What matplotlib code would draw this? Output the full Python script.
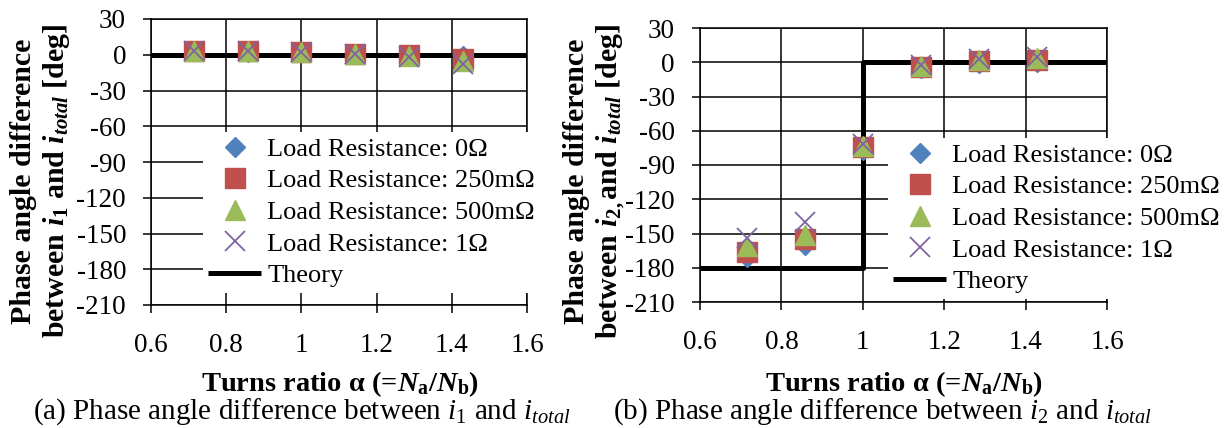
import matplotlib
matplotlib.use('Agg')
import matplotlib.pyplot as plt

plt.rcParams['font.family'] = 'Liberation Serif'
plt.rcParams['axes.unicode_minus'] = False
plt.rcParams['mathtext.fontset'] = 'custom'
plt.rcParams['mathtext.rm'] = 'Liberation Serif'
plt.rcParams['mathtext.it'] = 'Liberation Serif:italic'
plt.rcParams['mathtext.bf'] = 'Liberation Serif:bold'
plt.rcParams['mathtext.bfit'] = 'Liberation Serif:italic:bold'

# turns ratio Na/Nb
ratio = [5 / 7, 6 / 7, 7 / 7, 8 / 7, 9 / 7, 10 / 7]

# (a) phase difference i1 vs itotal [deg]
a_r0 = [3, 2, 2, 1, -1, -1]
a_r250 = [3, 3, 2, 1, -0.5, -3.5]
a_r500 = [3, 3, 2, 1, -1, -5.5]
a_r1 = [3.5, 3.5, 2.5, 1, -1.5, -7.5]
a_theory_x = [0.6, 1.6]
a_theory_y = [0, 0]

# (b) phase difference i2 vs itotal [deg]
b_r0 = [-171, -160, -77, -5, -1, 0]
b_r250 = [-166, -155, -74, -4, 1, 2]
b_r500 = [-161, -151, -73, -3, 2, 3.5]
b_r1 = [-154, -140, -72, -2, 3, 5]
b_theory_x = [0.6, 1.0, 1.0, 1.6]
b_theory_y = [-180, -180, 0, 0]

labels = ['Load Resistance: 0Ω', 'Load Resistance: 250mΩ',
          'Load Resistance: 500mΩ', 'Load Resistance: 1Ω', 'Theory']

W, H = 1231, 428
fig = plt.figure(figsize=(W / 100, H / 100), dpi=100)


def px(x0, y0, x1, y1):
    return [x0 / W, 1 - y1 / H, (x1 - x0) / W, (y1 - y0) / H]


def draw(ax, r0, r250, r500, r1, tx, ty, leg_xy):
    ax.plot(tx, ty, color='black', lw=3.6, solid_capstyle='butt', zorder=3)
    ax.plot(ratio, r0, 'D', color='#4F81BD', ms=10.5, zorder=4)
    ax.plot(ratio, r250, 's', color='#C0504D', ms=14.5, zorder=4)
    ax.plot(ratio, r500, '^', color='#9BBB59', ms=14.5, zorder=4)
    ax.plot(ratio, r1, 'x', color='#8064A2', ms=14.5, mew=1.3, zorder=4)
    ax.set_xlim(0.6, 1.6)
    ax.set_ylim(-210, 30)
    ax.set_xticks([0.6, 0.8, 1.0, 1.2, 1.4, 1.6])
    ax.set_xticklabels(['0.6', '0.8', '1', '1.2', '1.4', '1.6'])
    ax.set_yticks(range(-210, 31, 30))
    ax.grid(True, color='black', lw=1.1)
    ax.set_axisbelow(True)
    for s in ax.spines.values():
        s.set_linewidth(1.1)
    ax.tick_params(axis='both', direction='out', length=6, width=1.1,
                   labelsize=19.5)
    ax.tick_params(axis='y', pad=12)
    ax.tick_params(axis='x', pad=14)
    h = ax.get_lines()
    handles = [h[1], h[2], h[3], h[4], h[0]]
    leg = ax.legend(handles, labels, loc='upper left',
                    bbox_to_anchor=(leg_xy[0] / W, 1 - leg_xy[1] / H),
                    bbox_transform=fig.transFigure, borderaxespad=0,
                    borderpad=0.2, handlelength=2.0, handletextpad=0.23,
                    labelspacing=0.31, prop={'size': 19}, fancybox=False,
                    framealpha=1, facecolor='white', edgecolor='none')
    leg.set_zorder(5)


ax1 = fig.add_axes(px(151, 19, 527, 305))
draw(ax1, a_r0, a_r250, a_r500, a_r1, a_theory_x, a_theory_y, (203, 132))
ax2 = fig.add_axes(px(700, 28, 1107, 302))
draw(ax2, b_r0, b_r250, b_r500, b_r1, b_theory_x, b_theory_y, (888, 138))

ylab_a = ("Phase angle difference\n"
          r"between $\mathbfit{i}_{\mathbf{1}}$ and $\mathbfit{i}_{\mathbfit{total}}$ [deg]")
ylab_b = ("Phase angle difference\n"
          r"between $\mathbfit{i}_{\mathbf{2,}}$and $\mathbfit{i}_{\mathbfit{total}}$ [deg]")
fig.text(41 / W, 1 - 181 / H, ylab_a, rotation=90, ha='center', va='center',
         fontsize=21.5, fontweight='bold', linespacing=1.15)
fig.text(595 / W, 1 - 181 / H, ylab_b, rotation=90, ha='center', va='center',
         fontsize=21.5, fontweight='bold', linespacing=1.2)

xlab = r"Turns ratio α (=$\mathbfit{N}_{\mathbf{a}}$/$\mathbfit{N}_{\mathbf{b}}$)"
fig.text(340 / W, 1 - 384 / H, xlab, ha='center', va='center',
         fontsize=20.5, fontweight='bold')
fig.text(904 / W, 1 - 384 / H, xlab, ha='center', va='center',
         fontsize=20.5, fontweight='bold')

fig.text(302 / W, 1 - 412 / H,
         r"(a) Phase angle difference between $i_{1}$ and $i_{total}$",
         ha='center', va='center', fontsize=21)
fig.text(883 / W, 1 - 412 / H,
         r"(b) Phase angle difference between $i_{2}$ and $i_{total}$",
         ha='center', va='center', fontsize=21)

fig.savefig('out.png', dpi=100)
